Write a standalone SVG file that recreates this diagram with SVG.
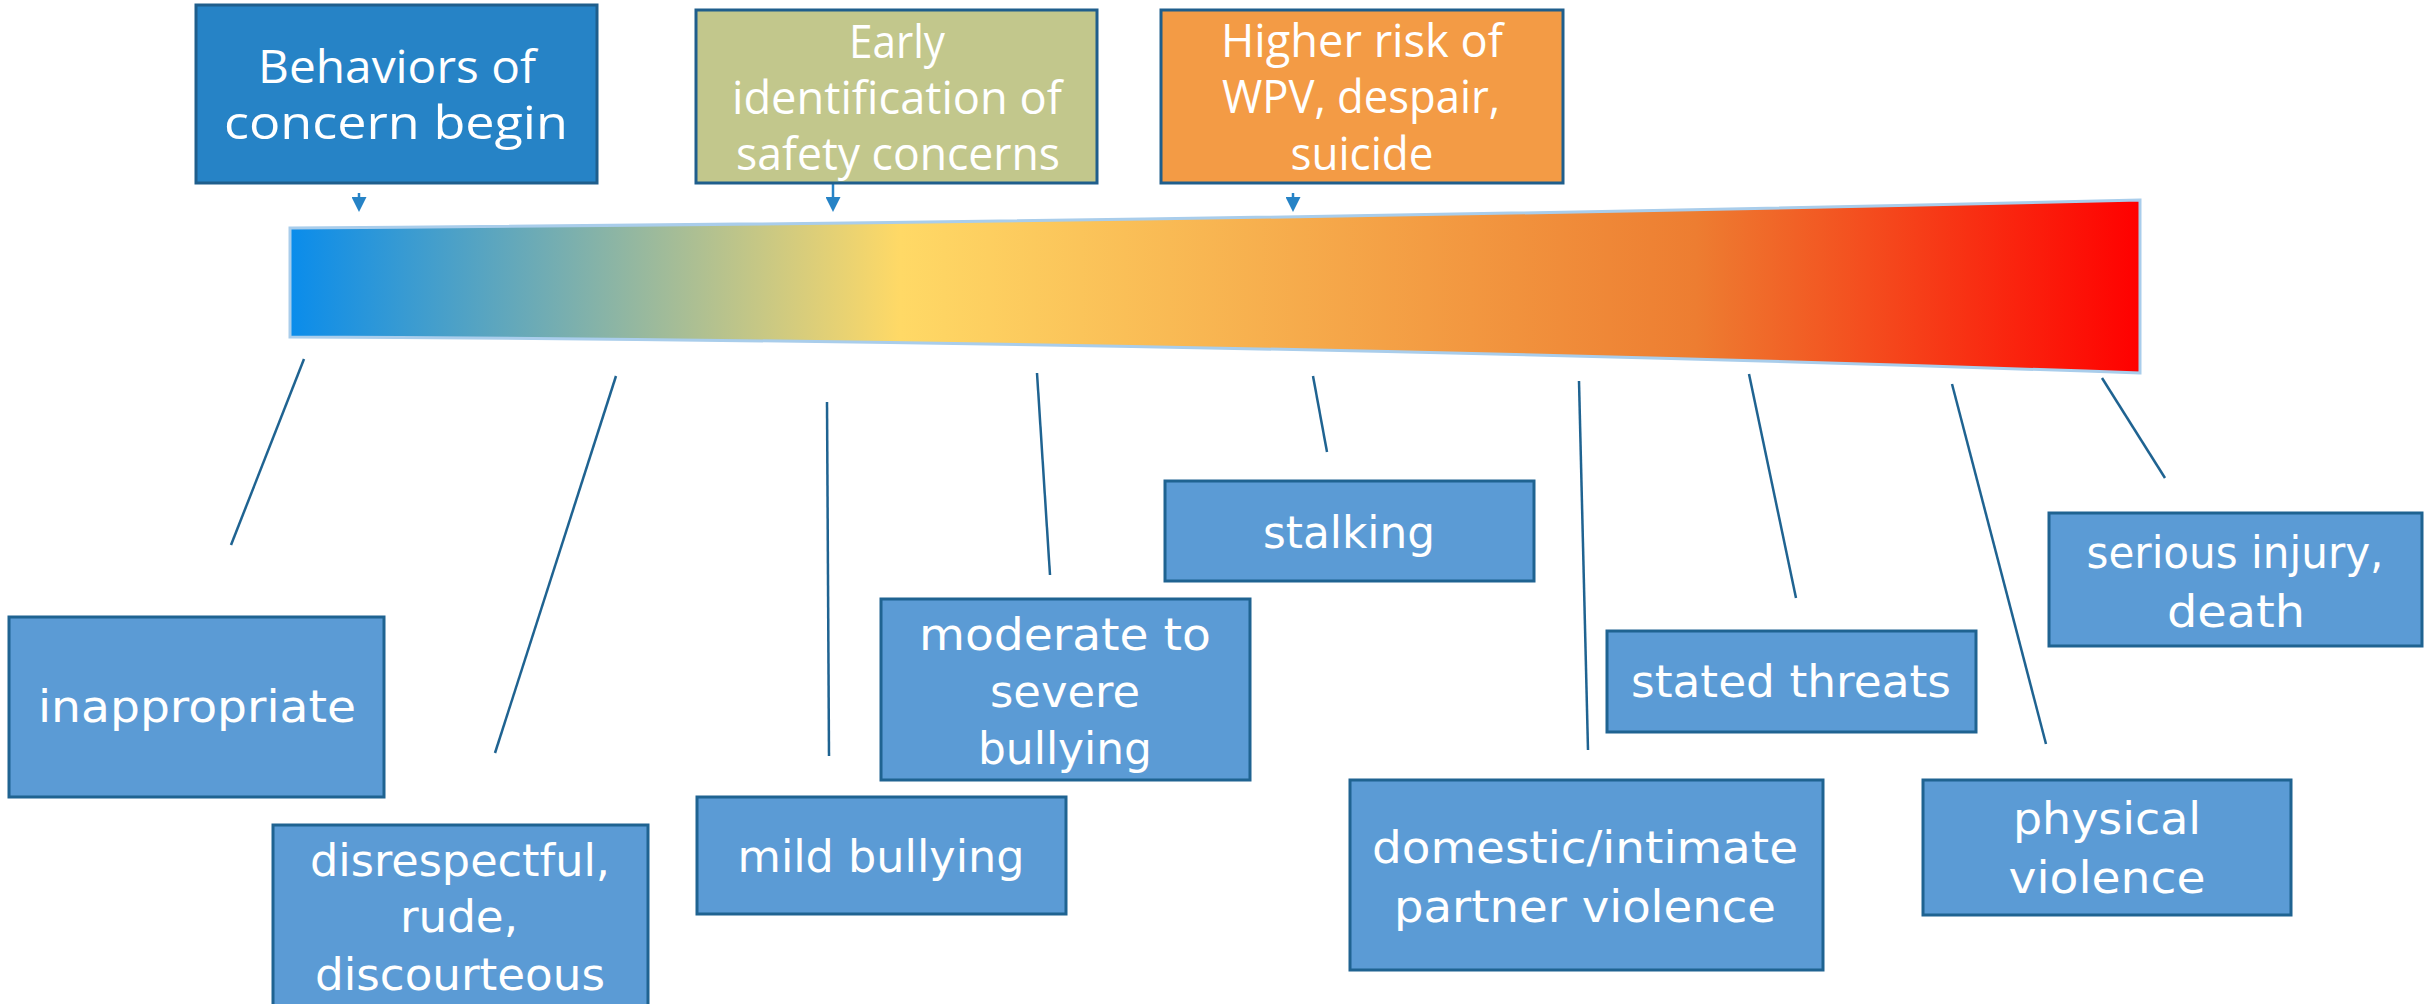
<svg xmlns="http://www.w3.org/2000/svg" width="2435" height="1004" viewBox="0 0 2435 1004">
<style>
.top{stroke:#1F5E8C;stroke-width:3}
.tt{font-family:"Open Sans","Noto Sans",sans-serif;font-size:45px;fill:#ffffff;text-anchor:middle}
.box{fill:#5B9BD5;stroke:#1F6391;stroke-width:3}
.bt{font-family:"DejaVu Sans","Liberation Sans",sans-serif;font-size:45px;fill:#ffffff;text-anchor:middle}
.conn{stroke:#1F6391;stroke-width:2.5;fill:none}
.arr{stroke:#2683C6;stroke-width:2.5;fill:none}
</style>
<defs>
<linearGradient id="grad" gradientUnits="userSpaceOnUse" x1="290" y1="0" x2="2140" y2="0">
<stop offset="0" stop-color="#0A8CEB"/>
<stop offset="0.33" stop-color="#FFD966"/>
<stop offset="0.76" stop-color="#ED7D31"/>
<stop offset="1" stop-color="#FF0000"/>
</linearGradient>
<marker id="ah" markerUnits="userSpaceOnUse" markerWidth="15" markerHeight="15" viewBox="0 0 15 15" refX="0" refY="7.5" orient="auto">
<path d="M0,0 L15,7.5 L0,15 Z" fill="#2683C6"/>
</marker>
</defs>
<rect width="2435" height="1004" fill="#ffffff"/>

<g id="bar">
<path d="M290,228 Q1215,222 2140,200 L2140,373 Q1215,341 290,337 Z" fill="url(#grad)" stroke="#A9CDEB" stroke-width="3"/>
</g>

<g id="connectors">
<line class="arr" x1="359" y1="193" x2="359" y2="197" marker-end="url(#ah)"/>
<line class="arr" x1="833" y1="184" x2="833" y2="197" marker-end="url(#ah)"/>
<line class="arr" x1="1293" y1="193" x2="1293" y2="197" marker-end="url(#ah)"/>
<line class="conn" x1="304" y1="359" x2="231" y2="545"/>
<line class="conn" x1="616" y1="376" x2="495" y2="753"/>
<line class="conn" x1="827" y1="402" x2="829" y2="756"/>
<line class="conn" x1="1037" y1="373" x2="1050" y2="575"/>
<line class="conn" x1="1313" y1="376" x2="1327" y2="452"/>
<line class="conn" x1="1579" y1="381" x2="1588" y2="750"/>
<line class="conn" x1="1749" y1="374" x2="1796" y2="598"/>
<line class="conn" x1="1952" y1="384" x2="2046" y2="744"/>
<line class="conn" x1="2102" y1="378" x2="2165" y2="478"/>
</g>

<g id="behaviors">
<rect class="top" x="196" y="5" width="401" height="178" fill="#2683C6"/>
<text class="tt" x="397" y="83" textLength="278" lengthAdjust="spacingAndGlyphs">Behaviors of</text>
<text class="tt" x="396" y="139" textLength="344" lengthAdjust="spacingAndGlyphs">concern begin</text>
</g>

<g id="early">
<rect class="top" x="696" y="10" width="401" height="173" fill="#C2C78C"/>
<text class="tt" x="897" y="58" textLength="96" lengthAdjust="spacingAndGlyphs">Early</text>
<text class="tt" x="897" y="114" textLength="330" lengthAdjust="spacingAndGlyphs">identification of</text>
<text class="tt" x="898" y="170" textLength="324" lengthAdjust="spacingAndGlyphs">safety concerns</text>
</g>

<g id="higher">
<rect class="top" x="1161" y="10" width="402" height="173" fill="#F39B45"/>
<text class="tt" x="1362" y="57" textLength="282" lengthAdjust="spacingAndGlyphs">Higher risk of</text>
<text class="tt" x="1361" y="113" textLength="278" lengthAdjust="spacingAndGlyphs">WPV, despair,</text>
<text class="tt" x="1362" y="170" textLength="143" lengthAdjust="spacingAndGlyphs">suicide</text>
</g>

<g id="inappropriate">
<rect class="box" x="9" y="617" width="375" height="180"/>
<text class="bt" x="197" y="722" textLength="318" lengthAdjust="spacingAndGlyphs">inappropriate</text>
</g>

<g id="disrespectful">
<rect class="box" x="273" y="825" width="375" height="195"/>
<text class="bt" x="460" y="876" textLength="300" lengthAdjust="spacingAndGlyphs">disrespectful,</text>
<text class="bt" x="459" y="932" textLength="118" lengthAdjust="spacingAndGlyphs">rude,</text>
<text class="bt" x="460" y="990" textLength="290" lengthAdjust="spacingAndGlyphs">discourteous</text>
</g>

<g id="mild">
<rect class="box" x="697" y="797" width="369" height="117"/>
<text class="bt" x="881" y="872" textLength="287" lengthAdjust="spacingAndGlyphs">mild bullying</text>
</g>

<g id="moderate">
<rect class="box" x="881" y="599" width="369" height="181"/>
<text class="bt" x="1065" y="650" textLength="292" lengthAdjust="spacingAndGlyphs">moderate to</text>
<text class="bt" x="1065" y="707" textLength="150" lengthAdjust="spacingAndGlyphs">severe</text>
<text class="bt" x="1065" y="764" textLength="174" lengthAdjust="spacingAndGlyphs">bullying</text>
</g>

<g id="stalking">
<rect class="box" x="1165" y="481" width="369" height="100"/>
<text class="bt" x="1349" y="548" textLength="172" lengthAdjust="spacingAndGlyphs">stalking</text>
</g>

<g id="domestic">
<rect class="box" x="1350" y="780" width="473" height="190"/>
<text class="bt" x="1585" y="863" textLength="426" lengthAdjust="spacingAndGlyphs">domestic/intimate</text>
<text class="bt" x="1585" y="922" textLength="382" lengthAdjust="spacingAndGlyphs">partner violence</text>
</g>

<g id="threats">
<rect class="box" x="1607" y="631" width="369" height="101"/>
<text class="bt" x="1791" y="697" textLength="320" lengthAdjust="spacingAndGlyphs">stated threats</text>
</g>

<g id="physical">
<rect class="box" x="1923" y="780" width="368" height="135"/>
<text class="bt" x="2107" y="834" textLength="188" lengthAdjust="spacingAndGlyphs">physical</text>
<text class="bt" x="2107" y="893" textLength="197" lengthAdjust="spacingAndGlyphs">violence</text>
</g>

<g id="serious">
<rect class="box" x="2049" y="513" width="373" height="133"/>
<text class="bt" x="2235" y="568" textLength="297" lengthAdjust="spacingAndGlyphs">serious injury,</text>
<text class="bt" x="2236" y="627" textLength="138" lengthAdjust="spacingAndGlyphs">death</text>
</g>
</svg>
